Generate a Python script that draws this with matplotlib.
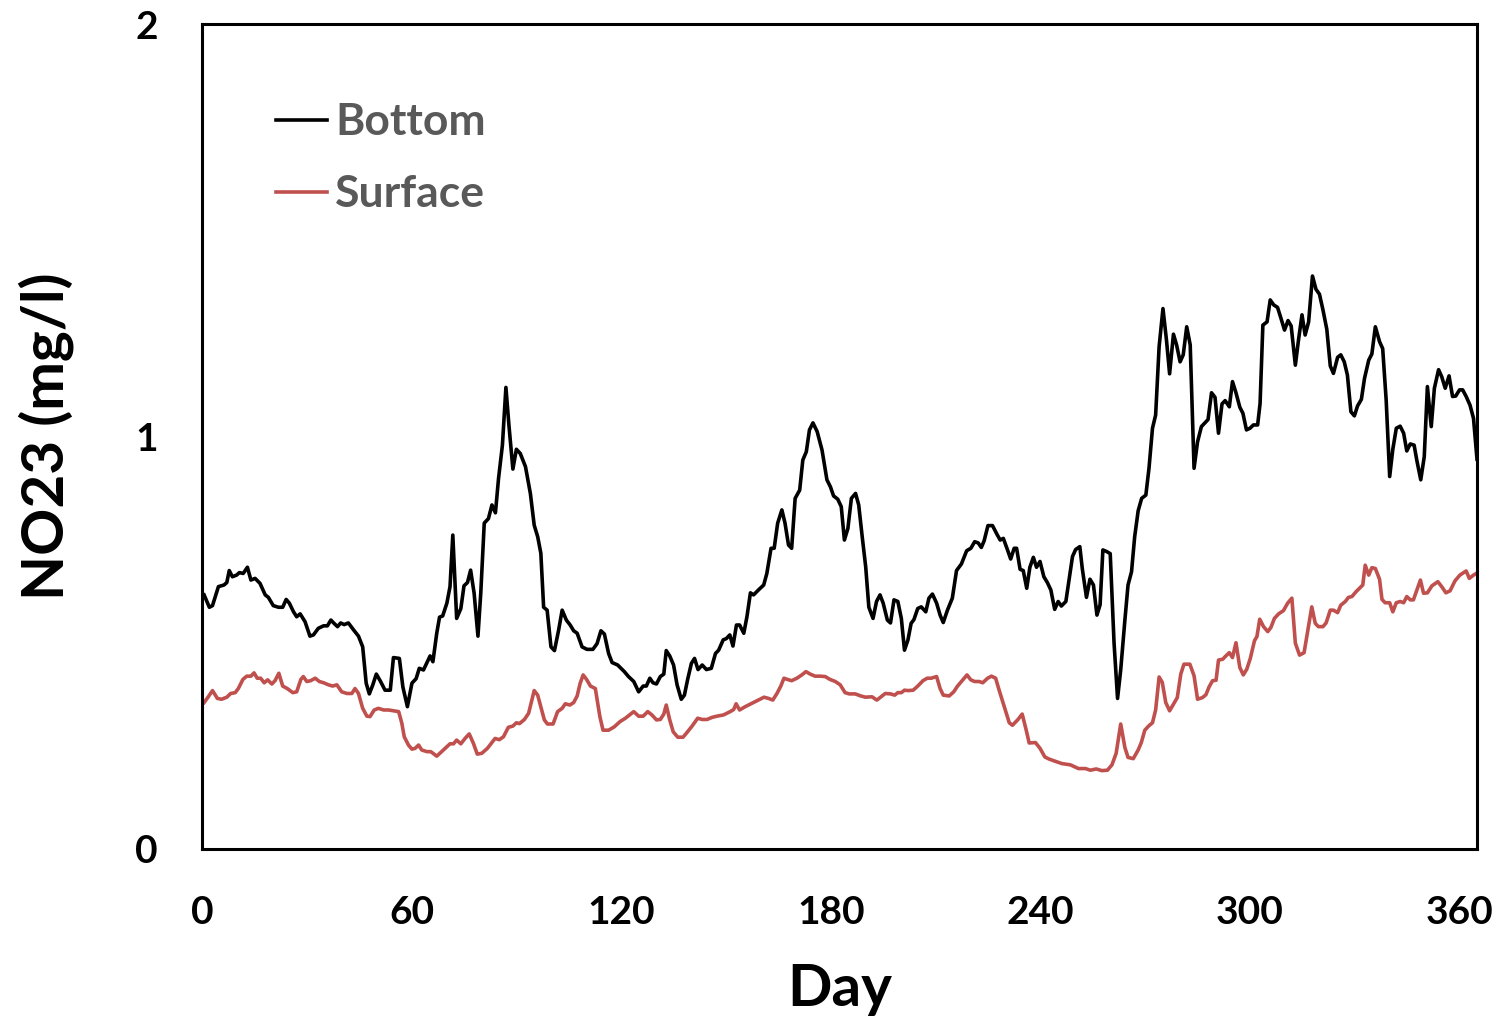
import matplotlib
matplotlib.use("Agg")
import matplotlib.pyplot as plt

plt.rcParams['font.family'] = ['Lato', 'DejaVu Sans']
plt.rcParams['font.weight'] = 'bold'

# Bottom layer NO23
bottom_day = [0.6, 2.1, 3.0, 4.7, 6.3, 7.1, 7.8, 8.7, 9.9, 10.7, 11.8, 13.0, 14.0, 15.2, 16.6,
              18.1, 19.0, 20.4, 21.9, 23.1, 24.1, 25.0, 26.2, 27.1, 28.1, 29.5, 30.9, 31.9, 33.3,
              34.8, 35.9, 36.9, 37.8, 38.8, 39.7, 40.7, 41.9, 43.4, 44.8, 46.0, 47.0, 47.9, 48.9,
              49.9, 51.0, 52.4, 53.9, 54.8, 56.5, 57.5, 58.8, 60.1, 61.3, 62.2, 63.4, 64.5, 65.3,
              66.1, 67.2, 68.0, 68.9, 70.1, 71.0, 71.8, 72.9, 74.1, 75.0, 76.0, 76.9, 77.9, 79.0,
              79.8, 80.8, 82.0, 83.0, 84.0, 84.9, 86.0, 87.0, 87.9, 89.0, 90.0, 91.1, 92.6, 94.0,
              95.1, 96.1, 97.0, 97.8, 98.8, 99.9, 100.9, 102.1, 103.1, 104.3, 105.4, 106.4, 107.4,
              108.8, 110.2, 111.9, 113.1, 114.2, 115.2, 116.4, 117.4, 119.0, 120.9, 122.1, 123.6,
              125.0, 126.3, 127.2, 128.2, 129.1, 130.1, 131.2, 132.2, 132.9, 133.9, 135.0, 136.0,
              137.2, 138.1, 139.0, 140.1, 141.0, 142.0, 143.2, 144.4, 145.8, 147.0, 147.9, 149.2,
              150.1, 151.1, 152.0, 153.0, 153.9, 155.1, 156.0, 157.0, 157.9, 159.3, 160.8, 161.7,
              162.9, 163.8, 164.8, 166.0, 166.9, 167.9, 168.8, 169.8, 171.1, 172.0, 173.0, 173.9,
              174.9, 176.1, 177.5, 178.9, 179.9, 180.8, 182.0, 183.0, 183.9, 184.9, 185.9, 187.1,
              188.0, 189.0, 190.0, 190.9, 192.1, 193.1, 194.1, 195.0, 196.2, 197.1, 198.1, 199.2,
              200.2, 201.1, 202.1, 203.0, 203.8, 204.9, 205.9, 207.2, 208.1, 209.1, 210.3, 211.3,
              212.2, 213.4, 214.8, 216.0, 217.4, 218.9, 220.1, 221.2, 222.2, 223.1, 223.9, 225.0,
              226.3, 227.7, 228.5, 229.4, 230.6, 231.5, 232.5, 233.2, 234.2, 235.1, 236.1, 237.0,
              238.0, 238.9, 239.9, 241.0, 242.0, 243.0, 244.1, 245.1, 246.0, 247.3, 248.2, 249.2,
              250.1, 251.3, 252.0, 253.2, 254.2, 255.2, 256.2, 257.1, 257.9, 259.0, 260.0, 261.1,
              262.1, 263.0, 264.2, 265.1, 266.1, 267.0, 268.0, 269.0, 270.2, 271.1, 272.1, 273.0,
              274.0, 275.1, 276.1, 277.0, 278.1, 279.0, 280.0, 280.9, 281.9, 282.9, 284.0, 285.0,
              286.1, 287.1, 288.0, 289.0, 290.0, 291.0, 292.0, 292.9, 294.1, 295.0, 296.0, 297.1,
              298.0, 299.0, 300.0, 301.0, 302.2, 302.9, 303.7, 304.9, 305.8, 306.8, 307.9, 308.9,
              309.9, 310.9, 311.8, 313.0, 313.9, 314.9, 315.8, 316.8, 317.9, 318.9, 319.9, 320.9,
              322.0, 323.0, 323.9, 325.1, 326.0, 327.0, 327.9, 328.9, 329.9, 330.8, 331.9, 332.8,
              334.0, 334.9, 335.9, 337.1, 338.0, 339.0, 340.0, 340.9, 341.9, 343.0, 344.0, 344.9,
              345.9, 347.0, 347.8, 348.9, 349.9, 350.8, 351.9, 352.8, 354.0, 354.9, 355.9, 357.0,
              358.0, 358.9, 360.0, 360.9, 361.9, 363.0, 364.0, 365.0]
bottom_val = [0.616, 0.586, 0.590, 0.636, 0.640, 0.646, 0.675, 0.660, 0.664, 0.670, 0.668, 0.683,
              0.652, 0.656, 0.644, 0.616, 0.610, 0.590, 0.586, 0.586, 0.605, 0.596, 0.575, 0.563,
              0.570, 0.551, 0.516, 0.519, 0.535, 0.541, 0.541, 0.555, 0.547, 0.539, 0.548, 0.544,
              0.548, 0.531, 0.516, 0.490, 0.402, 0.376, 0.398, 0.424, 0.408, 0.385, 0.385, 0.464,
              0.462, 0.393, 0.345, 0.402, 0.413, 0.438, 0.434, 0.454, 0.468, 0.454, 0.523, 0.562,
              0.565, 0.596, 0.636, 0.761, 0.559, 0.583, 0.638, 0.646, 0.676, 0.620, 0.516, 0.620,
              0.790, 0.801, 0.834, 0.815, 0.899, 0.979, 1.119, 1.024, 0.921, 0.969, 0.959, 0.927,
              0.862, 0.785, 0.757, 0.717, 0.586, 0.579, 0.490, 0.481, 0.531, 0.579, 0.555, 0.543,
              0.529, 0.523, 0.490, 0.484, 0.484, 0.498, 0.529, 0.521, 0.474, 0.452, 0.446, 0.430,
              0.418, 0.406, 0.381, 0.395, 0.395, 0.414, 0.403, 0.400, 0.418, 0.424, 0.481, 0.468,
              0.446, 0.398, 0.363, 0.373, 0.410, 0.450, 0.462, 0.435, 0.446, 0.435, 0.438, 0.474,
              0.482, 0.507, 0.510, 0.519, 0.492, 0.543, 0.543, 0.523, 0.563, 0.621, 0.616, 0.628,
              0.640, 0.668, 0.729, 0.729, 0.790, 0.822, 0.790, 0.737, 0.729, 0.850, 0.870, 0.943,
              0.963, 1.016, 1.033, 1.012, 0.967, 0.895, 0.878, 0.856, 0.848, 0.830, 0.749, 0.777,
              0.850, 0.862, 0.834, 0.757, 0.684, 0.586, 0.559, 0.600, 0.616, 0.596, 0.555, 0.548,
              0.604, 0.600, 0.559, 0.482, 0.507, 0.547, 0.556, 0.583, 0.587, 0.575, 0.608, 0.618,
              0.596, 0.567, 0.549, 0.579, 0.608, 0.675, 0.691, 0.723, 0.729, 0.745, 0.742, 0.731,
              0.747, 0.784, 0.784, 0.761, 0.749, 0.753, 0.725, 0.703, 0.729, 0.729, 0.678, 0.675,
              0.632, 0.683, 0.707, 0.683, 0.697, 0.660, 0.646, 0.628, 0.581, 0.600, 0.589, 0.600,
              0.652, 0.709, 0.726, 0.733, 0.680, 0.610, 0.654, 0.640, 0.567, 0.592, 0.725, 0.721,
              0.716, 0.499, 0.365, 0.434, 0.555, 0.640, 0.672, 0.757, 0.820, 0.850, 0.858, 0.923,
              1.020, 1.052, 1.218, 1.310, 1.234, 1.152, 1.248, 1.222, 1.181, 1.198, 1.266, 1.222,
              0.923, 0.987, 1.024, 1.033, 1.041, 1.106, 1.095, 1.008, 1.079, 1.087, 1.072, 1.133,
              1.106, 1.071, 1.056, 1.016, 1.020, 1.028, 1.028, 1.080, 1.270, 1.278, 1.331, 1.319,
              1.313, 1.286, 1.258, 1.281, 1.268, 1.173, 1.234, 1.295, 1.246, 1.278, 1.389, 1.357,
              1.345, 1.307, 1.260, 1.171, 1.153, 1.192, 1.198, 1.181, 1.149, 1.060, 1.050, 1.074,
              1.090, 1.141, 1.185, 1.200, 1.266, 1.230, 1.213, 1.088, 0.903, 0.969, 1.020, 1.025,
              1.008, 0.965, 0.982, 0.979, 0.941, 0.895, 0.951, 1.121, 1.024, 1.117, 1.162, 1.145,
              1.117, 1.147, 1.097, 1.098, 1.113, 1.113, 1.097, 1.076, 1.044, 0.945]

# Surface layer NO23
surface_day = [0.6, 1.8, 3.0, 4.4, 5.6, 7.1, 8.2, 9.5, 10.4, 11.7, 12.8, 14.0, 14.9, 15.8, 16.8,
               17.8, 18.8, 20.0, 20.9, 22.0, 23.1, 24.4, 26.0, 27.1, 28.3, 29.0, 30.0, 31.1, 32.4,
               33.6, 34.8, 36.2, 37.4, 38.6, 40.0, 41.5, 42.9, 43.8, 44.8, 46.0, 47.2, 48.1, 49.3,
               50.5, 52.0, 53.4, 54.8, 56.3, 57.2, 57.9, 59.1, 60.1, 61.0, 62.0, 62.9, 64.4, 65.5,
               67.2, 68.6, 69.6, 71.0, 72.0, 72.9, 74.1, 75.3, 76.5, 77.7, 78.8, 80.1, 81.7, 83.9,
               85.1, 86.3, 87.7, 89.0, 90.0, 90.9, 92.3, 93.5, 94.2, 95.1, 96.1, 97.0, 98.0, 98.9,
               100.5, 101.8, 103.1, 104.0, 105.3, 106.4, 107.4, 108.2, 109.1, 110.1, 111.2, 112.6,
               113.9, 114.8, 116.4, 118.0, 119.7, 121.2, 122.4, 123.6, 125.0, 126.3, 127.6, 128.8,
               130.1, 131.2, 132.2, 132.9, 133.9, 134.9, 136.2, 137.7, 138.8, 140.3, 141.9, 143.2,
               144.6, 146.0, 147.4, 149.3, 151.2, 152.2, 152.9, 153.9, 155.5, 157.4, 159.3, 160.9,
               162.2, 163.4, 164.6, 165.7, 166.6, 167.6, 168.8, 170.3, 171.7, 172.9, 174.1, 175.5,
               177.0, 178.4, 179.8, 181.3, 182.7, 184.1, 185.3, 187.0, 188.6, 189.9, 191.8, 193.2,
               194.4, 195.6, 197.1, 198.3, 199.2, 200.2, 201.1, 202.1, 203.6, 204.9, 206.4, 207.6,
               208.7, 210.3, 211.3, 212.2, 213.9, 215.2, 216.3, 217.8, 219.0, 220.1, 221.2, 222.5,
               223.5, 224.9, 226.0, 227.2, 228.2, 229.3, 230.5, 231.1, 232.0, 233.5, 234.8, 235.9,
               236.8, 238.6, 239.9, 241.3, 242.5, 243.8, 246.2, 248.6, 250.9, 252.9, 254.3, 256.0,
               257.6, 259.2, 260.5, 261.7, 263.0, 264.2, 265.1, 266.6, 268.0, 268.9, 269.9, 271.1,
               272.1, 273.0, 274.0, 274.9, 275.9, 277.0, 278.1, 279.2, 280.2, 281.1, 282.8, 284.0,
               285.0, 286.4, 287.4, 288.3, 289.3, 290.3, 291.0, 292.2, 293.1, 294.1, 295.0, 296.0,
               297.1, 298.1, 299.1, 300.1, 301.3, 302.0, 302.8, 303.9, 305.1, 306.0, 307.0, 308.2,
               309.6, 310.8, 312.0, 313.0, 314.2, 315.5, 316.8, 317.7, 318.7, 319.6, 320.9, 321.8,
               323.0, 323.9, 325.1, 326.0, 327.3, 328.2, 329.2, 330.4, 331.6, 332.3, 333.0, 334.0,
               334.9, 335.9, 337.1, 337.8, 338.7, 340.0, 340.9, 341.9, 343.0, 344.0, 344.9, 345.9,
               346.8, 347.8, 348.8, 349.7, 350.8, 352.1, 353.8, 354.9, 356.1, 357.3, 358.7, 360.1,
               361.9, 362.8, 364.0, 365.0]
surface_val = [0.355, 0.369, 0.384, 0.365, 0.363, 0.368, 0.377, 0.379, 0.389, 0.411, 0.419, 0.419,
               0.427, 0.414, 0.414, 0.403, 0.410, 0.400, 0.408, 0.426, 0.395, 0.389, 0.379, 0.381,
               0.411, 0.418, 0.406, 0.408, 0.414, 0.406, 0.403, 0.398, 0.395, 0.398, 0.381, 0.377,
               0.377, 0.389, 0.377, 0.341, 0.322, 0.321, 0.337, 0.341, 0.337, 0.337, 0.335, 0.333,
               0.305, 0.272, 0.252, 0.242, 0.244, 0.252, 0.240, 0.236, 0.236, 0.225, 0.236, 0.244,
               0.255, 0.255, 0.264, 0.255, 0.268, 0.279, 0.256, 0.230, 0.232, 0.244, 0.268, 0.265,
               0.272, 0.295, 0.298, 0.306, 0.304, 0.314, 0.329, 0.353, 0.384, 0.373, 0.345, 0.313,
               0.303, 0.303, 0.333, 0.341, 0.352, 0.349, 0.355, 0.371, 0.400, 0.422, 0.411, 0.395,
               0.389, 0.321, 0.288, 0.288, 0.296, 0.309, 0.317, 0.325, 0.333, 0.322, 0.322, 0.333,
               0.325, 0.313, 0.314, 0.327, 0.349, 0.313, 0.284, 0.271, 0.271, 0.282, 0.298, 0.317,
               0.314, 0.314, 0.319, 0.322, 0.325, 0.333, 0.338, 0.352, 0.337, 0.345, 0.353, 0.361,
               0.368, 0.365, 0.361, 0.377, 0.395, 0.414, 0.411, 0.408, 0.414, 0.422, 0.430, 0.424,
               0.419, 0.419, 0.418, 0.411, 0.406, 0.398, 0.379, 0.376, 0.376, 0.371, 0.368, 0.369,
               0.361, 0.369, 0.377, 0.376, 0.373, 0.379, 0.379, 0.385, 0.384, 0.385, 0.395, 0.408,
               0.414, 0.414, 0.418, 0.389, 0.373, 0.371, 0.381, 0.395, 0.410, 0.422, 0.410, 0.406,
               0.406, 0.403, 0.414, 0.419, 0.414, 0.385, 0.355, 0.322, 0.306, 0.300, 0.313, 0.327,
               0.290, 0.257, 0.258, 0.244, 0.223, 0.218, 0.214, 0.207, 0.204, 0.195, 0.195, 0.191,
               0.194, 0.190, 0.191, 0.204, 0.232, 0.303, 0.246, 0.222, 0.219, 0.240, 0.258, 0.288,
               0.299, 0.306, 0.337, 0.417, 0.404, 0.355, 0.335, 0.351, 0.367, 0.424, 0.448, 0.448,
               0.420, 0.363, 0.367, 0.374, 0.393, 0.408, 0.409, 0.458, 0.460, 0.468, 0.476, 0.464,
               0.500, 0.440, 0.422, 0.436, 0.462, 0.505, 0.515, 0.557, 0.539, 0.527, 0.537, 0.559,
               0.570, 0.578, 0.596, 0.608, 0.499, 0.470, 0.476, 0.541, 0.587, 0.547, 0.539, 0.539,
               0.548, 0.579, 0.579, 0.573, 0.591, 0.600, 0.610, 0.612, 0.624, 0.634, 0.640, 0.688,
               0.664, 0.682, 0.680, 0.654, 0.605, 0.597, 0.597, 0.575, 0.597, 0.600, 0.597, 0.612,
               0.604, 0.604, 0.628, 0.652, 0.620, 0.621, 0.638, 0.648, 0.636, 0.621, 0.626, 0.650,
               0.664, 0.674, 0.656, 0.664, 0.669]

x_ticks = [0, 60, 120, 180, 240, 300, 360]
y_ticks = [0, 1, 2]

fig = plt.figure(figsize=(15.03, 10.17), dpi=100)
ax = fig.add_axes([0.1344, 0.1652, 0.8483, 0.8112])

ax.plot(bottom_day, bottom_val, color='black', lw=2.6, label='Bottom')
ax.plot(surface_day, surface_val, color='#C0504D', lw=2.6, label='Surface')

ax.set_xlim(0, 365)
ax.set_ylim(0, 2)
ax.set_xticks(x_ticks)
ax.set_yticks(y_ticks)
ax.tick_params(axis='both', length=0, labelsize=28)
ax.tick_params(axis='x', pad=33)
ax.tick_params(axis='y', pad=32)
for lab in ax.get_xticklabels() + ax.get_yticklabels():
    lab.set_fontweight('bold')

for sp in ax.spines.values():
    sp.set_linewidth(2.2)
    sp.set_color('black')

ax.set_xlabel('Day', fontsize=42, fontweight='bold', labelpad=24)
ax.set_ylabel('NO23 (mg/l)', fontsize=42, fontweight='bold', labelpad=44)

leg = ax.legend(loc='upper left', bbox_to_anchor=(0.058, 0.905), frameon=False,
                fontsize=32, handlelength=1.15, handletextpad=0.18, labelspacing=0.72,
                borderpad=0, borderaxespad=0)
for t in leg.get_texts():
    t.set_color('#595959')
    t.set_fontweight('bold')

fig.savefig('out.png', dpi=100)
